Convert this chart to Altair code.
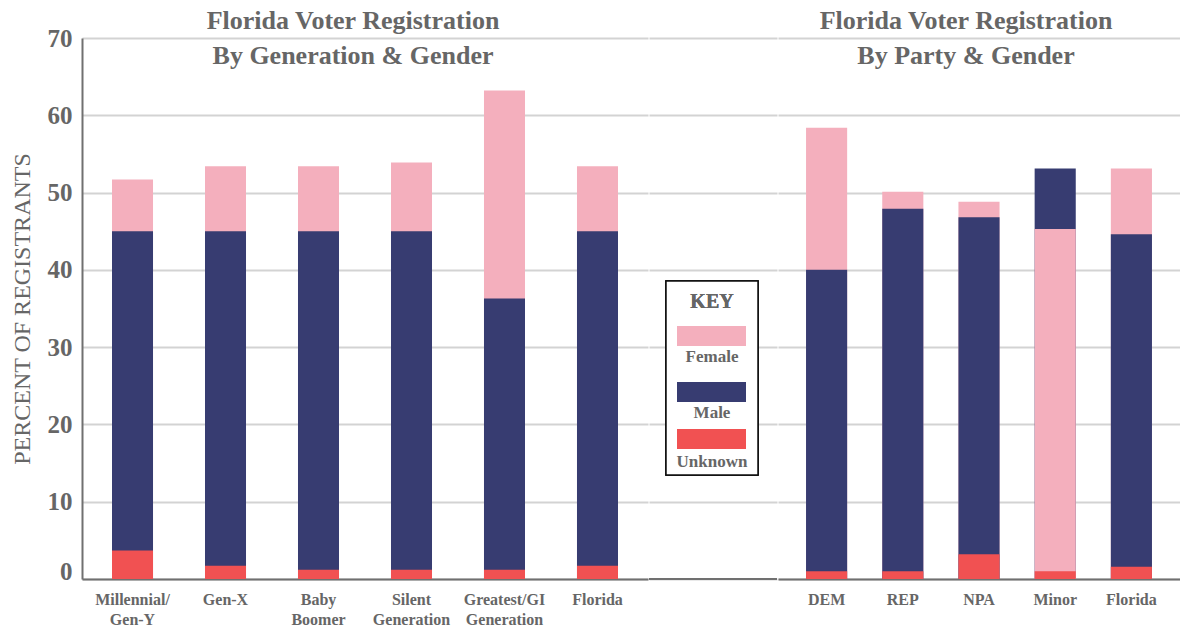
import altair as alt
import pandas as pd

# ---- data ----
gen_categories = ["Millennial/\nGen-Y", "Gen-X", "Baby\nBoomer", "Silent\nGeneration",
                  "Greatest/GI\nGeneration", "Florida"]
gen_female = [51.7, 53.4, 53.4, 53.9, 63.2, 53.4]
gen_male = [45.0, 45.0, 45.0, 45.0, 36.3, 45.0]
gen_unknown = [3.7, 1.7, 1.2, 1.2, 1.2, 1.7]

party_categories = ["DEM", "REP", "NPA", "Minor", "Florida"]
party_female = [58.4, 50.1, 48.8, 45.3, 53.1]
party_male = [40.0, 47.9, 46.8, 53.1, 44.6]
party_unknown = [1.0, 1.0, 3.2, 1.0, 1.6]

series_names = ["Female", "Male", "Unknown"]
series_colors = ["#F4AFBD", "#373C71", "#F15152"]

FONT = "Liberation Serif"
GREY = "#666666"
H = 541


def long_df(cats, female, male, unknown):
    rows = []
    for i, c in enumerate(cats):
        for s, vals in zip(series_names, [female, male, unknown]):
            rows.append({"category": c, "series": s, "value": vals[i]})
    return pd.DataFrame(rows)


yscale = alt.Scale(domain=[0, 70], nice=False, zero=True)
cscale = alt.Scale(domain=series_names, range=series_colors)


def title_params(lines, dx, offset):
    return alt.TitleParams(text=lines, font=FONT, fontSize=26, fontWeight="bold",
                           color=GREY, lineHeight=35, anchor="middle", frame="group",
                           offset=offset, dx=dx)


def bar_panel(cats, female, male, unknown, lines, width, p_inner, p_outer, show_y, dx, offset):
    df = long_df(cats, female, male, unknown)
    if show_y:
        yaxis = alt.Axis(title="PERCENT OF REGISTRANTS", titleFont=FONT, titleFontSize=24,
                         titleFontWeight="normal", titleColor=GREY, titlePadding=13,
                         labelFont=FONT, labelFontSize=25, labelFontWeight="bold",
                         labelColor=GREY, labelPadding=10, ticks=False,
                         values=[0, 10, 20, 30, 40, 50, 60, 70],
                         labelBaseline={"condition": {"test": "datum.value == 0", "value": "alphabetic"},
                                        "value": "middle"},
                         domain=True, domainColor="#707070", domainWidth=2,
                         grid=True, gridColor="#d3d3d3", gridWidth=2)
    else:
        yaxis = alt.Axis(title=None, labels=False, ticks=False, domain=False,
                         values=[0, 10, 20, 30, 40, 50, 60, 70],
                         grid=True, gridColor="#d3d3d3", gridWidth=2)
    return alt.Chart(df).mark_bar().encode(
        x=alt.X("category:N", sort=cats,
                scale=alt.Scale(paddingInner=p_inner, paddingOuter=p_outer),
                axis=alt.Axis(title=None, labelAngle=0, ticks=False,
                              labelExpr="split(datum.label, '\\n')",
                              labelFont=FONT, labelFontSize=16, labelFontWeight="bold",
                              labelColor=GREY, labelPadding=12, labelLineHeight=20,
                              domainColor="#707070", domainWidth=2, grid=False)),
        y=alt.Y("value:Q", stack=None, scale=yscale, axis=yaxis),
        color=alt.Color("series:N", scale=cscale, legend=None),
        order=alt.Order("value:Q", sort="descending"),
    ).properties(width=width, height=H, title=title_params(lines, dx, offset))


left = bar_panel(gen_categories, gen_female, gen_male, gen_unknown,
                 ["Florida Voter Registration", "By Generation & Gender"],
                 566, 0.559, 0.3226, True, -12, -43)
right = bar_panel(party_categories, party_female, party_male, party_unknown,
                  ["Florida Voter Registration", "By Party & Gender"],
                  402, 0.4605, 0.368, False, -13, -31)

# ---- middle panel with key ----
key_df = pd.DataFrame({"series": series_names, "v": [0, 0, 0]})
base_mid = alt.Chart(key_df)
grid_layer = base_mid.mark_rule(color="#707070", strokeWidth=2).encode(
    y=alt.Y("v:Q", scale=yscale,
            axis=alt.Axis(title=None, labels=False, ticks=False, domain=False,
                          values=[0, 10, 20, 30, 40, 50, 60, 70],
                          grid=True, gridColor="#d3d3d3", gridWidth=2)))
box = base_mid.mark_rect(fill="white", stroke="#111111", strokeWidth=1.5).encode(
    x=alt.value(17), x2=alt.value(109), y=alt.value(243), y2=alt.value(437))
key_title = base_mid.mark_text(text="KEY", font=FONT, fontSize=20, fontWeight="bold",
                               color=GREY, baseline="middle", align="center").encode(
    x=alt.value(63), y=alt.value(264))
layers = [grid_layer, box, key_title]
swatch_tops = [288, 344, 391]
label_ys = [319, 375, 424]
for name, col, top, ly in zip(series_names, series_colors, swatch_tops, label_ys):
    one = alt.Chart(key_df).transform_filter(alt.datum.series == name)
    layers.append(one.mark_rect(color=col).encode(
        x=alt.value(28), x2=alt.value(97), y=alt.value(top), y2=alt.value(top + 20)))
    layers.append(one.mark_text(font=FONT, fontSize=17, fontWeight="bold", color=GREY,
                                baseline="middle", align="center").encode(
        text="series:N", x=alt.value(63), y=alt.value(ly)))

middle = alt.layer(*layers).properties(
    width=128, height=H, title=title_params([" ", " "], 0, -31))

chart = alt.hconcat(left, middle, right, spacing=0).properties(
    padding={"left": 2, "top": 0, "right": 0, "bottom": 0}
).configure_view(stroke=None).configure_concat(spacing=0)

chart.save("out.html", embed_options={"renderer": "svg", "actions": False})
